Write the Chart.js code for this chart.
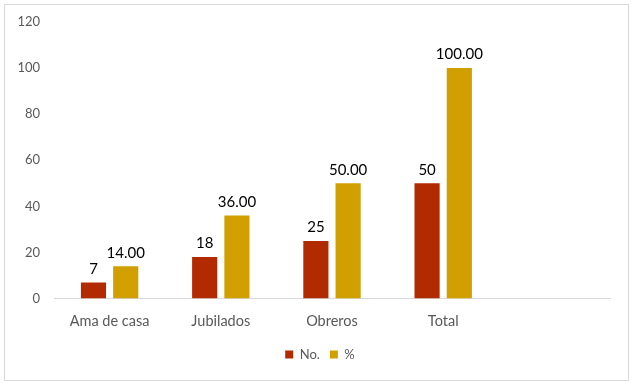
<!DOCTYPE html>
<html><head><meta charset="utf-8">
<script src="https://cdn.jsdelivr.net/npm/chart.js@4/dist/chart.umd.min.js"></script>
<style>html,body{margin:0;padding:0;background:#fff}#wrap{position:relative;width:633px;height:384px}</style>
</head><body><div id="wrap"><canvas id="c" width="633" height="384"></canvas></div>
<script>
const categories = ["Ama de casa", "Jubilados", "Obreros", "Total", ""];
const countValues = [7, 18, 25, 50, null];
const percentValues = [14, 36, 50, 100, null];
const countLabels = ["7", "18", "25", "50", ""];
const percentLabels = ["14.00", "36.00", "50.00", "100.00", ""];
const yTicks = [0, 20, 40, 60, 80, 100, 120];

const FONT = "Lato, 'Liberation Sans', sans-serif";

const frame = {
  id: 'frame',
  beforeDraw(chart) {
    const ctx = chart.ctx;
    ctx.save();
    ctx.fillStyle = '#fff';
    ctx.fillRect(0, 0, chart.width, chart.height);
    ctx.strokeStyle = '#d9d9d9';
    ctx.lineWidth = 1;
    ctx.strokeRect(4.5, 4.5, 624, 376);
    ctx.restore();
  },
  afterLayout(chart) {
    if (chart.legend) { chart.legend.left += 15; chart.legend.right += 15; }
  }
};

const labelsPlugin = {
  id: 'valueLabels',
  afterDatasetsDraw(chart) {
    const ctx = chart.ctx;
    const texts = [countLabels, percentLabels];
    ctx.save();
    ctx.font = "15px " + FONT;
    ctx.fillStyle = '#000';
    ctx.textAlign = 'center';
    ctx.textBaseline = 'bottom';
    chart.data.datasets.forEach((ds, di) => {
      const meta = chart.getDatasetMeta(di);
      meta.data.forEach((bar, i) => {
        if (ds.data[i] == null) return;
        ctx.fillText(texts[di][i], bar.x, bar.y - 6);
      });
    });
    ctx.restore();
  }
};

new Chart(document.getElementById('c'), {
  type: 'bar',
  data: {
    labels: categories,
    datasets: [
      { label: 'No.', data: countValues, backgroundColor: '#B22A00', categoryPercentage: 0.58, barPercentage: 0.78 },
      { label: '%', data: percentValues, backgroundColor: '#D19F00', categoryPercentage: 0.58, barPercentage: 0.78 }
    ]
  },
  options: {
    responsive: false,
    animation: false,
    layout: { padding: { left: 0, right: 23, top: 21, bottom: 13 } },
    plugins: {
      tooltip: { enabled: false },
      legend: {
        position: 'bottom',
        labels: { boxWidth: 8, boxHeight: 8, color: '#595959', font: { family: FONT, size: 13 }, padding: 10 }
      }
    },
    scales: {
      y: {
        min: 0, max: 120,
        afterBuildTicks(axis) { axis.ticks = yTicks.map(v => ({ value: v })); },
        afterFit(axis) { axis.width = 54; },
        grid: { display: false, drawTicks: false },
        border: { display: false },
        ticks: { color: '#595959', font: { family: FONT, size: 13 }, padding: 14 }
      },
      x: {
        afterFit(axis) { axis.height -= 6; },
        grid: { display: false, drawTicks: false },
        border: { display: true, color: '#d9d9d9' },
        ticks: { color: '#595959', font: { family: FONT, size: 14.5 }, padding: 14 }
      }
    }
  },
  plugins: [frame, labelsPlugin]
});
</script></body></html>
